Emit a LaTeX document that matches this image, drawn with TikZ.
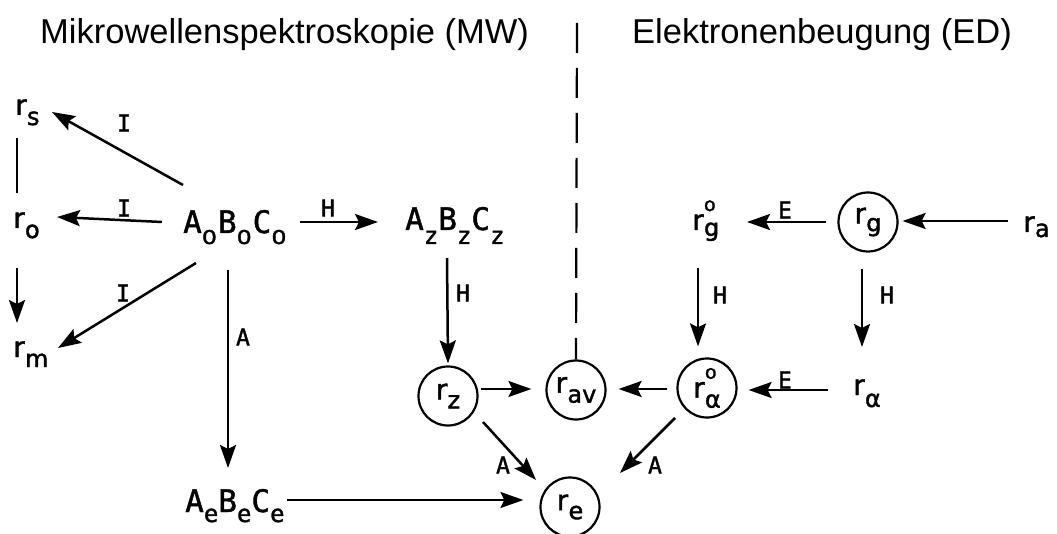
\documentclass[tikz,border=0pt]{standalone}
\usepackage{fontspec}
\usepackage{graphicx}
\setmainfont{Liberation Sans}
\newfontfamily\symf[FakeBold=1.6]{DejaVu Sans}
\newfontfamily\monof[FakeBold=1.4]{DejaVu Sans Mono}
\usetikzlibrary{arrows.meta}
% r with subscript (optional lowering)
\newcommand\rsub[2][9pt]{{\symf\fontsize{28}{28}\selectfont r\kern0.3pt\raisebox{-#1}{\fontsize{24}{24}\selectfont #2}}}
% r with superscript o and subscript
\newcommand\rsupsub[2][6pt]{{\symf\fontsize{28}{28}\selectfont r\kern0.3pt\rlap{\raisebox{19pt}{\fontsize{19}{19}\selectfont o}}\raisebox{-#1}{\fontsize{24}{24}\selectfont #2}}}
% capital with subscript
\newcommand\capsub[3][11pt]{#2\raisebox{-#1}{#3}}
\newcommand\subzero{{\symf\fontsize{19}{19}\selectfont\scalebox{1.25}[1]{0}}}
\newcommand\subl[1]{{\monof\fontsize{24}{24}\selectfont #1}}
\begin{document}
\begin{tikzpicture}[x=1pt,y=-1pt,
  txt/.style={inner sep=0pt, text depth=0pt, anchor=base west},
  circ/.style={circle, draw, line width=2.2pt, minimum size=59pt, inner sep=0pt},
  arr/.style={line width=2.5pt, -{Stealth[length=23pt,width=16pt,inset=4pt]}},
  plain/.style={line width=2.5pt},
  lab/.style={inner sep=0pt, font=\monof\fontsize{23}{23}\selectfont},
  head/.style={inner sep=0pt, anchor=base west, font=\fontsize{34.5}{34.5}\selectfont},
  dashline/.style={line width=2.2pt, dash pattern=on 30pt off 15pt}]
\useasboundingbox (0,0) rectangle (1057,534);
\fill[white] (0,0) rectangle (1057,534);

% headers
\node[head] (hmw) at (40,44) {Mikrowellenspektroskopie (MW)};
\node[head] (hed) at (632,44) {Elektronenbeugung (ED)};
\coordinate (dtop) at (577,23);

% text nodes
\node[txt] (rs) at (15,115) {\rsub[10pt]{s}};
\node[txt] (ro) at (13,228) {\rsub[10pt]{o}};
\node[txt] (rm) at (13,357) {\rsub[10pt]{m}};
\node[txt] (A0) at (183,233) {\monof\fontsize{31}{31}\selectfont\capsub{A}{\subzero}\kern1pt\capsub{B}{\subzero}\kern1pt\capsub{C}{\subzero}};
\node[txt] (Az) at (405,230) {\monof\fontsize{31}{31}\selectfont\capsub[14pt]{A}{\subl{z}}\capsub[14pt]{B}{\subl{z}}\capsub[14pt]{C}{\subl{z}}};
\node[txt] (Ae) at (185,512) {\monof\fontsize{31}{31}\selectfont\capsub[10pt]{A}{\subl{e}}\capsub[10pt]{B}{\subl{e}}\capsub[10pt]{C}{\subl{e}}};
\node[txt] (rgo) at (692,230) {\rsupsub[6pt]{g}};
\node[txt] (ra) at (1023,232) {\rsub[5pt]{a}};
\node[txt] (ral) at (853,395) {\rsub[12pt]{α}};

% circle nodes
\node[circ] (rz) at (448,396) {\rsub[9pt]{z}};
\node[circ] (rav) at (576,390) {\rsub[10pt]{av}};
\node[circ] (ralo) at (707,388) {\rsupsub[10pt]{α}};
\node[circ] (re) at (570,507) {\rsub[9pt]{e}};
\node[circ] (rg) at (868,222) {\rsub[8pt]{g}};

% left block
\draw[arr] ([shift={(0,-48)}]A0.base west) -- ([shift={(37,-3)}]rs.base west);
\draw[arr] ([shift={(-21,-11)}]A0.base west) -- ([shift={(44,-11)}]ro.base west);
\draw[arr] ([shift={(13,30)}]A0.base west) -- ([shift={(45,-9)}]rm.base west);
\draw[plain] ([shift={(2,23)}]rs.base west) -- ([shift={(4,-35)}]ro.base west);
\draw[arr] ([shift={(4,40)}]ro.base west) -- ([shift={(4,-34)}]rm.base west);
\draw[arr] ([shift={(117,-11)}]A0.base west) -- ([shift={(-27,-8)}]Az.base west);
\draw[arr] ([shift={(45,37)}]A0.base west) -- ([shift={(43,-44)}]Ae.base west);
\draw[arr] ([shift={(42,28)}]Az.base west) -- ([shift={(0,-2)}]rz.north);
\draw[arr] ([shift={(102,-12)}]Ae.base west) -- ([shift={(-16,-7)}]re.west);

% middle
\draw[arr] ([shift={(2,-7)}]rz.east) -- ([shift={(-14,-1)}]rav.west);
\draw[arr] ([shift={(-9,1)}]ralo.west) -- ([shift={(12,-1)}]rav.east);
\draw[arr] ([shift={(35,26)}]rz.center) -- ([shift={(-34,-27)}]re.center);
\draw[arr] ([shift={(-32,30)}]ralo.center) -- ([shift={(50,-34)}]re.center);
\draw[dashline] (dtop) -- (rav.north);

% right block
\draw[arr] ([shift={(-11,0)}]rg.west) -- ([shift={(55,-8)}]rgo.base west);
\draw[arr] ([shift={(-15,-11)}]ra.base west) -- ([shift={(4,-1)}]rg.east);
\draw[arr] ([shift={(6,38)}]rgo.base west) -- ([shift={(-9,-11)}]ralo.north);
\draw[arr] ([shift={(-6,16)}]rg.south) -- ([shift={(9,-48)}]ral.base west);
\draw[arr] ([shift={(-25,-5)}]ral.base west) -- ([shift={(11,2)}]ralo.east);

% labels
\node[lab] (l1) at (124,123) {I};
\node[lab] (l2) at (124,208) {I};
\node[lab] (l3) at (123,293) {I};
\node[lab] (l4) at (328,208) {H};
\node[lab] (l5) at (243,337) {A};
\node[lab] (l6) at (463,293) {H};
\node[lab] (l7) at (503,465) {A};
\node[lab] (l8) at (655,465) {A};
\node[lab] (l9) at (785,380) {E};
\node[lab] (l10) at (785,210) {E};
\node[lab] (l11) at (720,295) {H};
\node[lab] (l12) at (887,295) {H};
\end{tikzpicture}
\end{document}
